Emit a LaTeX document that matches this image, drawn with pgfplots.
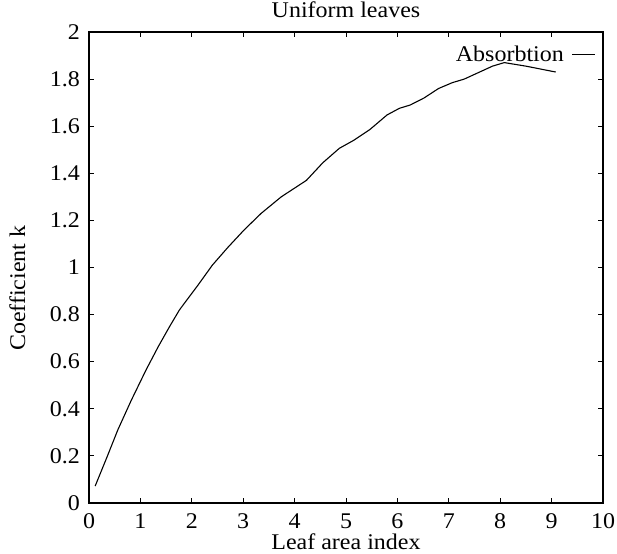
\documentclass[border=0pt]{standalone}
\usepackage{fontspec}
\setmainfont{Liberation Serif}[FakeStretch=1.07]
\usepackage{pgfplots}
\pgfplotsset{compat=1.18}
\newcommand{\bigf}{\fontsize{22.5}{26}\selectfont}
\begin{document}
\begin{tikzpicture}
\begin{axis}[
  scale only axis,
  width=514bp, height=471bp,
  xmin=0, xmax=10, ymin=0, ymax=2,
  xtick={0,1,...,10},
  ytick={0,0.2,...,2.01},
  yticklabels={0,0.2,0.4,0.6,0.8,1,1.2,1.4,1.6,1.8,2},
  tick align=inside,
  major tick length=5bp,
  axis line style={line width=1.1pt},
  every tick/.style={line width=0.9pt, black},
  /pgf/number format/assume math mode=true,
  tick label style={font=\bigf},
  xticklabel style={anchor=base, inner sep=0pt, yshift=-25bp},
  yticklabel style={anchor=east, inner sep=0pt, xshift=-9bp},
  xlabel={Leaf area index},
  xlabel style={font=\bigf, at={(axis description cs:0.5,0)}, anchor=base, inner sep=0pt, yshift=-46bp},
  ylabel={Coefficient k},
  ylabel style={font=\bigf, at={(axis description cs:-0.1245,0.456)}, anchor=base, inner sep=0pt},
  legend plot pos=right,
  legend style={at={(rel axis cs:0.988,0.977)}, anchor=north east, draw=none, fill=none,
    font=\bigf, inner sep=1bp, column sep=6bp},
  legend image code/.code={\draw[line width=0.8pt] (0bp,0bp) -- (23bp,0bp);},
]
\addplot[black, line width=1.1pt] coordinates {
(0.12,0.072) (0.35,0.195) (0.56,0.31) (0.82,0.435) (1.11,0.565) (1.35,0.665)
(1.57,0.75) (1.76,0.82) (2.12,0.925) (2.40,1.01) (2.70,1.085) (3.02,1.16)
(3.35,1.23) (3.74,1.30) (4.23,1.37) (4.55,1.445) (4.87,1.506) (5.15,1.54)
(5.46,1.585) (5.80,1.648) (6.04,1.676) (6.25,1.69) (6.52,1.72) (6.80,1.76)
(7.07,1.785) (7.30,1.80) (7.60,1.83) (7.85,1.855) (8.08,1.87) (8.50,1.855)
(9.08,1.83)
};
\addlegendentry{Absorbtion}
\coordinate (o) at (rel axis cs:0,0);
\coordinate (t) at (rel axis cs:0.5,1);
\end{axis}
\node[font=\bigf, anchor=base, inner sep=0pt] at ([yshift=14bp]t) {Uniform leaves};
\path (o) ++(-89bp,-51bp) rectangle ++(617bp,554bp);
\end{tikzpicture}
\end{document}
